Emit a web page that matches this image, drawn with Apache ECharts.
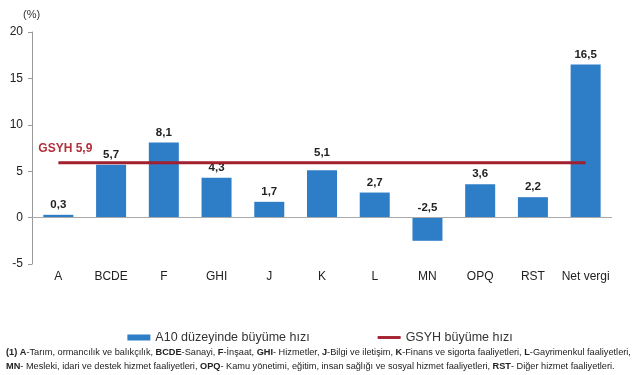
<!DOCTYPE html>
<html><head><meta charset="utf-8">
<script src="https://cdn.jsdelivr.net/npm/echarts@6/dist/echarts.min.js"></script>
<style>html,body{margin:0;padding:0;background:#fff}#c{width:640px;height:375px}</style>
</head><body><div id="c"></div>
<script>
const categories = ['A','BCDE','F','GHI','J','K','L','MN','OPQ','RST','Net vergi'];
const sectorGrowth = [0.3,5.7,8.1,4.3,1.7,5.1,2.7,-2.5,3.6,2.2,16.5];
const gdpGrowth = 5.9;
const yTicks = {min:-5,max:20,interval:5};
const seriesNames = ['A10 düzeyinde büyüme hızı','GSYH büyüme hızı'];

const F = '"Liberation Sans", Arial, sans-serif';
const fmt = v => String(v).replace('.', ',');
const chart = echarts.init(document.getElementById('c'));
chart.setOption({
  animation:false,
  textStyle:{fontFamily:F},
  grid:{left:32,top:32,width:580,height:232},
  xAxis:{type:'category',data:categories,
    axisLine:{show:false,onZero:false},axisTick:{show:false},
    axisLabel:{color:'#222',fontSize:12,margin:7,interval:0}},
  yAxis:{type:'value',min:yTicks.min,max:yTicks.max,interval:yTicks.interval,
    axisLine:{show:true,lineStyle:{color:'#999'}},
    axisTick:{show:true,length:4,lineStyle:{color:'#999'}},
    splitLine:{show:false},
    axisLabel:{color:'#222',fontSize:12,margin:9}},
  legend:{top:326,left:'center',itemGap:68,itemWidth:23,itemHeight:6,
    textStyle:{color:'#333',fontSize:12.5},
    data:[{name:seriesNames[0],icon:'rect'},{name:seriesNames[1],icon:'path://M0,0H24V3H0Z'}]},
  series:[
    {name:seriesNames[0],type:'bar',barWidth:30,
      data:sectorGrowth.map((v,i)=> categories[i]==='K' ? {value:v,label:{distance:11}} : v),
      itemStyle:{color:'#2e7dc7'},
      label:{show:true,position:'top',distance:4,color:'#222',fontWeight:'bold',fontSize:11.5,
        formatter:p=>fmt(p.value)},
      markLine:{silent:true,symbol:'none',label:{show:false},
        lineStyle:{color:'#aaa',type:'solid',width:1},data:[{yAxis:0}]}},
    {name:seriesNames[1],type:'line',data:categories.map(()=>gdpGrowth),
      symbol:'none',lineStyle:{color:'#a21f2d',width:3},itemStyle:{color:'#a21f2d'},
      label:{show:false},
      markPoint:{symbol:'circle',symbolSize:0,
        data:[{coord:[0,gdpGrowth],value:gdpGrowth}],
        label:{show:true,position:'top',offset:[7,-3],color:'#b2303b',fontWeight:'bold',fontSize:12,
          formatter:p=>'GSYH '+fmt(p.value)}}}
  ],
  graphic:[
    {type:'text',left:23,top:9,style:{text:'(%)',fill:'#333',font:'11px '+F}},
    {type:'text',left:6,top:348,style:{
      text:'{b|(1) A}-Tarım, ormancılık ve balıkçılık, {b|BCDE}-Sanayi, {b|F}-İnşaat, {b|GHI}- Hizmetler, {b|J}-Bilgi ve iletişim, {b|K}-Finans ve sigorta faaliyetleri, {b|L}-Gayrimenkul faaliyetleri,',
      font:'9.2px '+F,fill:'#222',rich:{b:{fontWeight:'bold',fontSize:9.2,fill:'#222'}}}},
    {type:'text',left:6,top:362,style:{
      text:'{b|MN}- Mesleki, idari ve destek hizmet faaliyetleri, {b|OPQ}- Kamu yönetimi, eğitim, insan sağlığı ve sosyal hizmet faaliyetleri, {b|RST}- Diğer hizmet faaliyetleri.',
      font:'9.2px '+F,fill:'#222',rich:{b:{fontWeight:'bold',fontSize:9.2,fill:'#222'}}}}
  ]
});
</script></body></html>
